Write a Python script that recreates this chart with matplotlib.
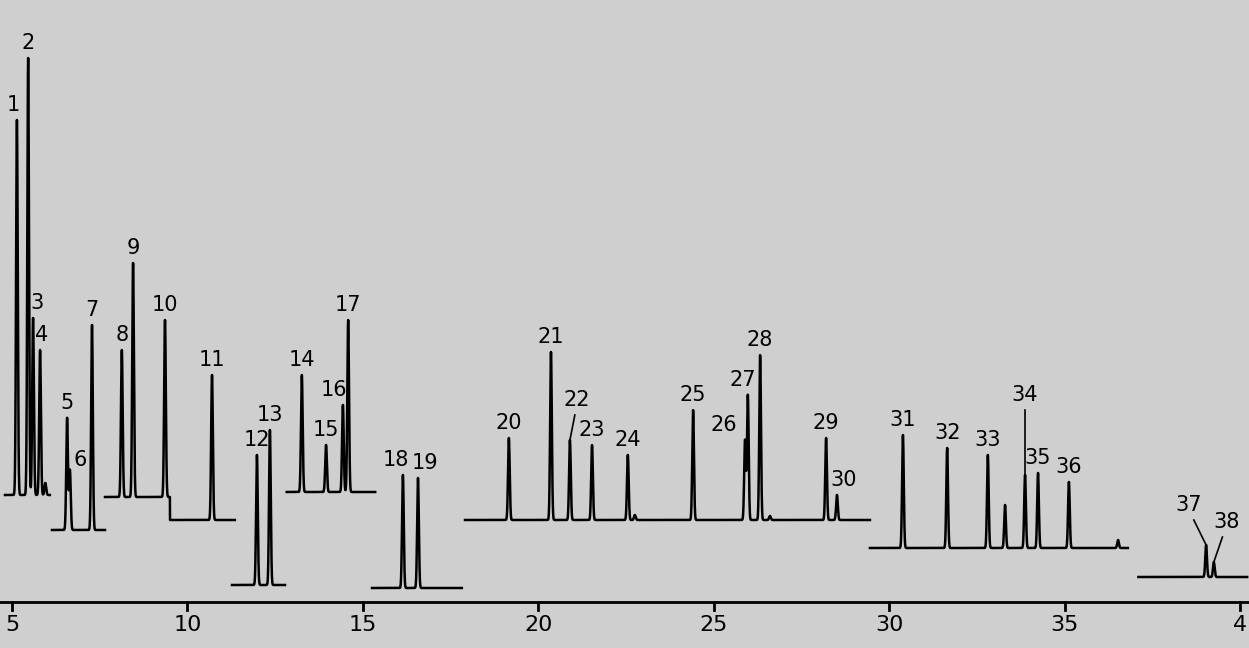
import numpy as np
import matplotlib.pyplot as plt

# chromatogram segments: (start, end, baseline level)
seg_start = [4.8, 6.14, 7.65, 11.27, 12.83, 15.26, 17.91, 29.45, 37.1]
seg_end = [6.08, 7.65, 11.35, 12.78, 15.35, 17.82, 29.45, 36.8, 40.2]
seg_base = [153, 118, 151, 63, 156, 60, 128, 100, 71]

# peaks: number, retention time, height, segment
peak_no = list(range(1, 39))
peak_t = [5.14, 5.46, 5.60, 5.80, 6.57, 6.65, 7.28, 8.13, 8.45, 9.36, 10.70,
          11.98, 12.35, 13.26, 13.95, 14.43, 14.58, 16.14, 16.57,
          19.16, 20.36, 20.90, 21.53, 22.55, 24.41, 25.89, 25.97, 26.32, 28.20, 28.51,
          30.39, 31.65, 32.81, 33.87, 34.24, 35.12, 39.03, 39.25]
peak_h = [375, 437, 177, 145, 112, 60, 205, 147, 234, 177, 145,
          130, 155, 117, 47, 87, 172, 113, 110,
          82, 168, 80, 75, 65, 110, 80, 125, 165, 82, 25,
          113, 100, 93, 73, 75, 66, 32, 15]
peak_seg = [0, 0, 0, 0, 1, 1, 1, 2, 2, 2, 2, 3, 3, 4, 4, 4, 4, 5, 5,
            6, 6, 6, 6, 6, 6, 6, 6, 6, 6, 6, 7, 7, 7, 7, 7, 7, 8, 8]
extra_t = [33.30, 36.52, 5.95, 22.75, 26.6]
extra_h = [43, 8, 12, 5, 4]
extra_seg = [7, 7, 0, 6, 6]

# label offsets (time, height) for crowded labels
label_dx = {1: -0.1, 3: 0.1, 4: 0.05, 6: 0.3, 16: -0.25, 18: -0.2, 19: 0.2, 22: 0.2,
            27: -0.15, 26: -0.6, 30: 0.2, 37: -0.5, 38: 0.35}
label_dy = {6: -5, 34: 65, 37: 25, 38: 25, 22: 25}

px_per_min = 35.09
t_left = 5 - 12 / px_per_min
t_right = 5 + 1237 / px_per_min

fig = plt.figure(figsize=(12.49, 6.48), dpi=100)
fig.patch.set_facecolor('#cfcfcf')
ax = fig.add_axes([0, 0, 1, 1])
ax.set_facecolor('#cfcfcf')
ax.set_xlim(t_left, t_right)
ax.set_ylim(0, 648)
ax.axis('off')

width = 0.024
for s in range(len(seg_start)):
    t = np.linspace(seg_start[s], seg_end[s], 4000)
    y = np.full_like(t, seg_base[s], dtype=float)
    if s == 2:
        y = np.where(t > 9.5, seg_base[s] - 23, y)
    for pt, ph, ps in list(zip(peak_t, peak_h, peak_seg)) + list(zip(extra_t, extra_h, extra_seg)):
        if ps == s:
            y = y + ph * np.exp(-0.5 * ((t - pt) / width) ** 2)
    ax.plot(t, y, color='black', lw=1.8)

for n, pt, ph, ps in zip(peak_no, peak_t, peak_h, peak_seg):
    top = seg_base[ps] + ph
    if ps == 2 and pt > 9.5:
        top -= 23
    dx = label_dx.get(n, 0)
    dy = label_dy.get(n, 0)
    ax.text(pt + dx, top + 5 + dy, str(n), ha='center', va='bottom', fontsize=15)
    if n in (22, 34, 37, 38):
        ax.plot([pt, pt + dx * 0.7], [top, top + dy], color='black', lw=1.2)

# time axis
ax.plot([t_left, t_right], [46, 46], color='black', lw=2)
for tk in range(5, 41, 5):
    ax.plot([tk, tk], [46, 38], color='black', lw=2)
    ax.text(tk, 33, str(tk) if tk < 40 else '4', ha='center', va='top', fontsize=16)

fig.savefig('out.png', dpi=100, facecolor=fig.get_facecolor())
